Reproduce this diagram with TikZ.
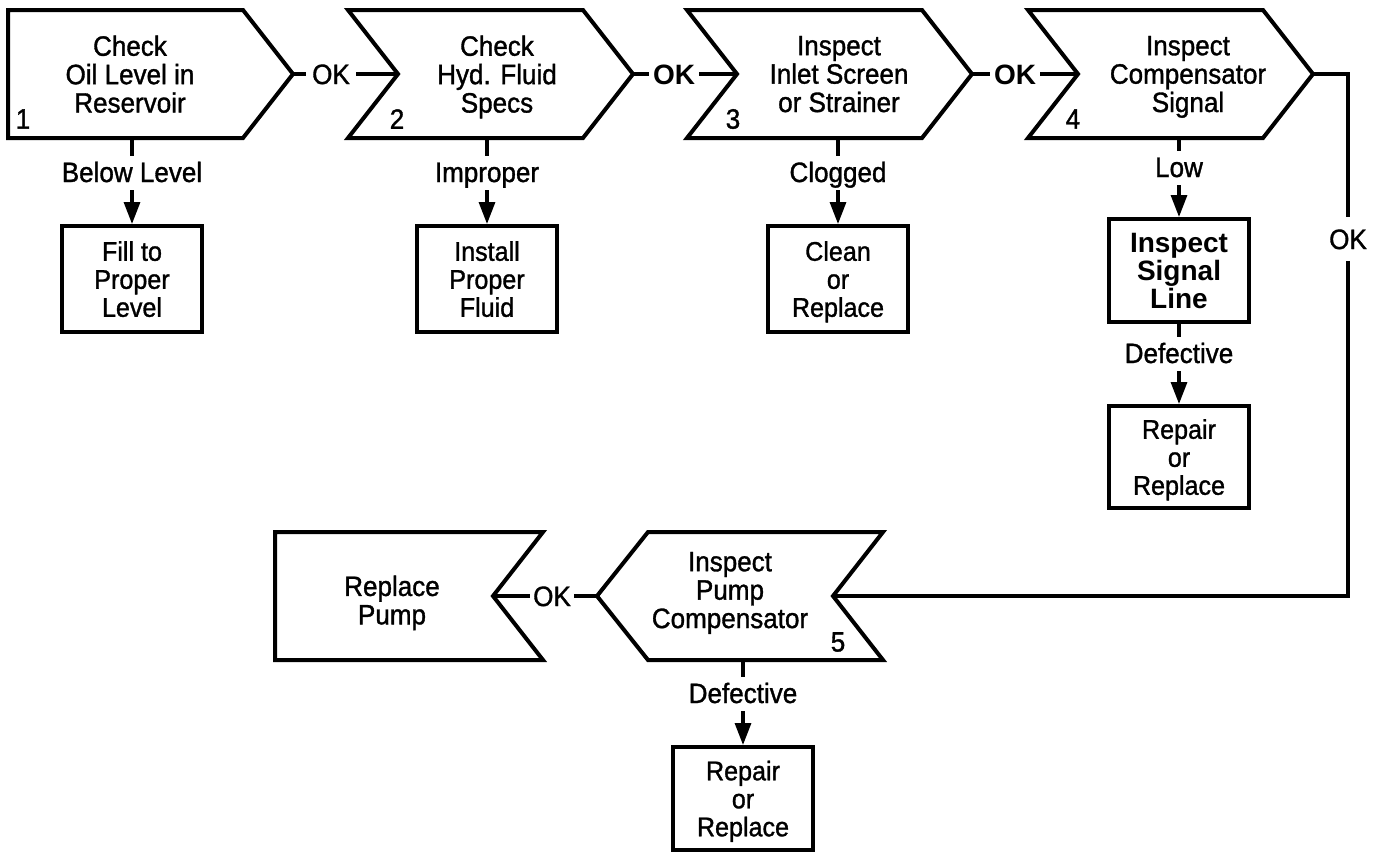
\documentclass[tikz,border=0pt]{standalone}
\usepackage{fontspec}
\setmainfont[FakeStretch=0.93,FakeBold=1.2]{Liberation Sans}
\newfontfamily\plainsans{Liberation Sans}
\usetikzlibrary{arrows.meta}
\tikzset{
  stage/.style={draw, line width=2pt, line join=miter},
  stagetext/.style={align=center, inner sep=0pt, text depth=0pt, font=\fontsize{14}{14.2}\selectfont},
  stagenum/.style={inner sep=0pt, font=\fontsize{14}{14}\selectfont},
  result/.style={draw, line width=2pt, minimum width=70pt, minimum height=53pt, inner sep=0pt,
    align=center, text depth=0pt, font=\fontsize{13.5}{14}\selectfont},
  cond/.style={anchor=base, text height=10pt, text depth=1pt, inner ysep=3pt, inner xsep=2pt,
    font=\fontsize{14}{14}\selectfont},
  oklabel/.style={text height=10pt, text depth=0pt, inner ysep=3pt, inner xsep=3pt,
    font=\fontsize{14}{14}\selectfont},
  okbold/.style={oklabel, inner xsep=2pt, font=\fontsize{14}{14}\plainsans\bfseries},
  link/.style={line width=1.6pt},
  arr/.style={link, -{Triangle[length=11pt,width=8pt]}}
}
\begin{document}
\begin{tikzpicture}[x=0.5pt,y=-0.5pt]
\useasboundingbox (0,0) rectangle (1380,852);
% top row of stages
\draw[stage] (8,10) -- (243,10) -- (293,74) -- (243,138) -- (8,138) -- cycle;
\draw[stage] (348,10) -- (583,10) -- (633,74) -- (583,138) -- (348,138) -- (398,74) -- cycle;
\draw[stage] (687,10) -- (922,10) -- (972,74) -- (922,138) -- (687,138) -- (737,74) -- cycle;
\draw[stage] (1028,10) -- (1263,10) -- (1313,74) -- (1263,138) -- (1028,138) -- (1078,74) -- cycle;
% bottom row
\draw[stage] (648,532) -- (883,532) -- (833,596) -- (883,660) -- (648,660) -- (597,596) -- cycle;
\draw[stage] (275,532) -- (543,532) -- (493,596) -- (543,660) -- (275,660) -- cycle;

\coordinate (tip1) at (293,74);
\coordinate (notch2) at (398,74);
\coordinate (tip2) at (633,74);
\coordinate (notch3) at (737,74);
\coordinate (tip3) at (972,74);
\coordinate (notch4) at (1078,74);
\coordinate (tip4) at (1313,74);
\coordinate (notch5) at (833,596);
\coordinate (tip5) at (597,596);
\coordinate (notch6) at (493,596);
\coordinate (foot1) at (132,138);
\coordinate (foot2) at (487,138);
\coordinate (foot3) at (838,138);
\coordinate (foot4) at (1179,138);
\coordinate (foot5) at (743,660);

\node[stagetext] (oil) at (130,74) {Check\\Oil Level in\\Reservoir};
\node[stagetext] (fluid) at (497,74) {Check\\Hyd. Fluid\\Specs};
\node[stagetext] (screen) at (839,74) {Inspect\\Inlet Screen\\or Strainer};
\node[stagetext] (signal) at (1188,74) {Inspect\\Compensator\\Signal};
\node[stagetext] (pumpcomp) at (730,590) {Inspect\\Pump\\Compensator};
\node[stagetext] (pump) at (392,600) {Replace\\Pump};

\node[stagenum] (num1) at (23,119) {1};
\node[stagenum] (num2) at (397,119) {2};
\node[stagenum] (num3) at (733,119) {3};
\node[stagenum] (num4) at (1073,119) {4};
\node[stagenum] (num5) at (838,642) {5};

% remedies
\node[result] (fill) at (132,279) {Fill to\\Proper\\Level};
\node[result] (install) at (487,279) {Install\\Proper\\Fluid};
\node[result] (clean) at (838,279) {Clean\\or\\Replace};
\node[result, minimum height=51.5pt, font=\fontsize{14}{14}\plainsans\bfseries] (line) at (1179,270.5) {Inspect\\Signal\\Line};
\node[result, minimum height=51pt] (repair1) at (1179,457) {Repair\\or\\Replace};
\node[result, minimum height=51.5pt] (repair2) at (743,798.5) {Repair\\or\\Replace};

% conditions
\node[cond] (below) at (132,182) {Below Level};
\node[cond] (improper) at (487,182) {Improper};
\node[cond] (clogged) at (838,182) {Clogged};
\node[cond] (low) at (1179,177) {Low};
\node[cond] (defect1) at (1179,363) {Defective};
\node[cond] (defect2) at (743,703) {Defective};

\node[oklabel] (ok1) at (331,74) {OK};
\node[okbold] (ok2) at (674,74) {OK};
\node[okbold] (ok3) at (1015,74) {OK};
\node[oklabel, inner ysep=5.75pt] (ok4) at (1348,239) {OK};
\node[oklabel, inner xsep=1.5pt] (ok5) at (552,596) {OK};

\draw[link] (tip1) -- (ok1);
\draw[link] (ok1) -- (notch2);
\draw[link] (tip2) -- (ok2);
\draw[link] (ok2) -- (notch3);
\draw[link] (tip3) -- (ok3);
\draw[link] (ok3) -- (notch4);
\draw[link] (tip4) -| (ok4);
\draw[link] (ok4) |- (notch5);
\draw[link] (tip5) -- (ok5);
\draw[link] (ok5) -- (notch6);

\draw[link] (foot1) -- (below);
\draw[arr] (below) -- (fill);
\draw[link] (foot2) -- (improper);
\draw[arr] (improper) -- (install);
\draw[link] (foot3) -- (clogged);
\draw[arr] (clogged) -- (clean);
\draw[link] (foot4) -- (low);
\draw[arr] (low) -- (line);
\draw[link] (line) -- (defect1);
\draw[arr] (defect1) -- (repair1);
\draw[link] (foot5) -- (defect2);
\draw[arr] (defect2) -- (repair2);
\end{tikzpicture}
\end{document}
